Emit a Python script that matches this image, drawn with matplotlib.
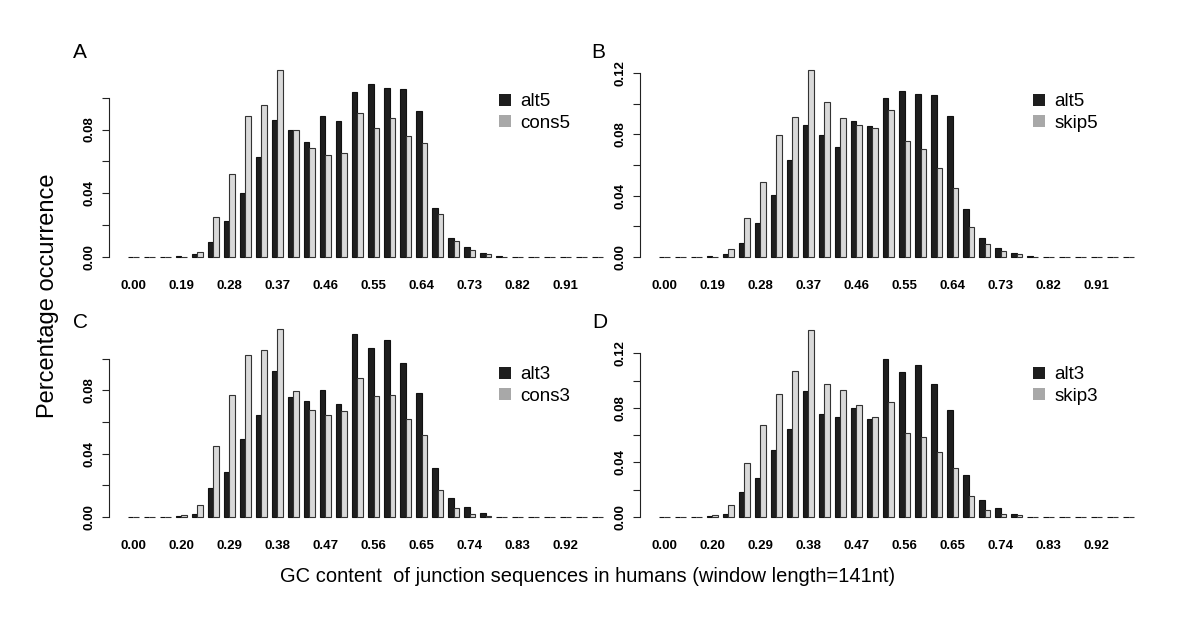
import numpy as np
import matplotlib.pyplot as plt
from matplotlib.patches import Patch

plt.rcParams['font.family'] = ['Liberation Sans', 'DejaVu Sans']

# GC content bins: 30 groups, only every third name is printed
labels_5 = ["0.00", "0.19", "0.28", "0.37", "0.46", "0.55", "0.64", "0.73", "0.82", "0.91"]
labels_3 = ["0.00", "0.20", "0.29", "0.38", "0.47", "0.56", "0.65", "0.74", "0.83", "0.92"]

alt5 = [0, 0, 0, 0.0006, 0.0021, 0.0094, 0.0224, 0.0402, 0.0630, 0.0861,
        0.0796, 0.0720, 0.0888, 0.0854, 0.1035, 0.1083, 0.1060, 0.1053, 0.0919, 0.0310,
        0.0121, 0.0061, 0.0023, 0.0005, 0, 0, 0, 0, 0, 0]
cons5 = [0, 0, 0, 0.0002, 0.0031, 0.0251, 0.0519, 0.0882, 0.0957, 0.1177,
         0.0798, 0.0683, 0.0643, 0.0655, 0.0905, 0.0810, 0.0875, 0.0762, 0.0714, 0.0272,
         0.0098, 0.0046, 0.0021, 0, 0, 0, 0, 0, 0, 0]
skip5 = [0, 0, 0, 0.0003, 0.0054, 0.0257, 0.0489, 0.0796, 0.0915, 0.1222,
         0.1007, 0.0909, 0.0859, 0.0843, 0.0961, 0.0759, 0.0702, 0.0580, 0.0452, 0.0198,
         0.0083, 0.0037, 0.0017, 0.0003, 0, 0, 0, 0, 0, 0]
alt3 = [0, 0, 0, 0.0008, 0.0019, 0.0185, 0.0284, 0.0491, 0.0646, 0.0924,
        0.0756, 0.0731, 0.0800, 0.0716, 0.1156, 0.1065, 0.1114, 0.0973, 0.0785, 0.0307,
        0.0122, 0.0063, 0.0025, 0, 0, 0, 0, 0, 0, 0]
cons3 = [0, 0, 0, 0.0010, 0.0076, 0.0446, 0.0771, 0.1021, 0.1055, 0.1183,
         0.0796, 0.0678, 0.0646, 0.0669, 0.0876, 0.0762, 0.0771, 0.0617, 0.0516, 0.0171,
         0.0057, 0.0019, 0.0008, 0, 0, 0, 0, 0, 0, 0]
skip3 = [0, 0, 0, 0.0012, 0.0088, 0.0394, 0.0678, 0.0899, 0.1075, 0.1376,
         0.0977, 0.0931, 0.0820, 0.0735, 0.0847, 0.0617, 0.0590, 0.0475, 0.0360, 0.0152,
         0.0051, 0.0020, 0.0015, 0, 0, 0, 0, 0, 0, 0]

W, H = 1200, 638
BLACK = '#1e1e1e'
LIGHT = '#d9d9d9'
LEG_GREY = '#a8a8a8'


def px_box(left, top, width, height):
    return [left / W, 1 - (top + height) / H, width / W, height / H]


def draw_panel(ax, black, grey, names, ytop, ylabels, leg_names, leg_xy):
    n = len(black)
    k = np.arange(n)
    # R barplot(beside=TRUE): bar width 1, one unit gap between groups
    ax.bar(1 + 3 * k, black, width=1, align='edge', color=BLACK,
           edgecolor='#111111', linewidth=0.8)
    ax.bar(2 + 3 * k, grey, width=1, align='edge', color=LIGHT,
           edgecolor='#333333', linewidth=0.8)
    span = 3 * n - 1
    ax.set_xlim(1 - 0.04 * span, 3 * n + 0.04 * span)
    m = max(max(black), max(grey))
    ax.set_ylim(-0.04 * m, 1.04 * m)

    for s in ['top', 'right', 'bottom']:
        ax.spines[s].set_visible(False)
    ax.spines['left'].set_bounds(0, ytop)
    ax.spines['left'].set_color('#222222')
    ax.spines['left'].set_linewidth(0.8)

    yt = np.arange(0, ytop + 1e-9, 0.02)
    ax.set_yticks(yt)
    ax.set_yticklabels(['%.2f' % v if ('%.2f' % v) in ylabels else '' for v in yt],
                       rotation=90, va='center', fontsize=9.5, fontweight='bold')
    ax.tick_params(axis='y', length=5, width=0.8, color='#222222', pad=5)

    ax.set_xticks(2 + 3 * k[::3])
    ax.set_xticklabels(names, fontsize=9.5, fontweight='bold')
    ax.tick_params(axis='x', length=0, pad=11)

    handles = [Patch(facecolor=BLACK, edgecolor='none', label=leg_names[0]),
               Patch(facecolor=LEG_GREY, edgecolor='none', label=leg_names[1])]
    fig = ax.figure
    fig.legend(handles=handles, loc='center left',
               bbox_to_anchor=(leg_xy[0] / W, 1 - leg_xy[1] / H),
               frameon=False, fontsize=13.5, handlelength=0.65, handleheight=0.65,
               handletextpad=0.5, labelspacing=0.22, borderpad=0, borderaxespad=0)


fig = plt.figure(figsize=(12, 6.38), dpi=100)

pw, ph = 513, 202.5
axA = fig.add_axes(px_box(109, 62, pw, ph))
axB = fig.add_axes(px_box(640, 62, pw, ph))
axC = fig.add_axes(px_box(109, 322, pw, ph))
axD = fig.add_axes(px_box(640, 322, pw, ph))

draw_panel(axA, alt5, cons5, labels_5, 0.10, ['0.00', '0.04', '0.08'],
           ['alt5', 'cons5'], (499, 112.5))
draw_panel(axB, alt5, skip5, labels_5, 0.12, ['0.00', '0.04', '0.08', '0.12'],
           ['alt5', 'skip5'], (1033, 112.5))
draw_panel(axC, alt3, cons3, labels_3, 0.10, ['0.00', '0.04', '0.08'],
           ['alt3', 'cons3'], (499, 385.5))
draw_panel(axD, alt3, skip3, labels_3, 0.12, ['0.00', '0.04', '0.08', '0.12'],
           ['alt3', 'skip3'], (1033, 385.5))

for letter, x, y in [('A', 80, 53), ('B', 598, 53), ('C', 80, 323), ('D', 600, 323)]:
    fig.text(x / W, 1 - y / H, letter, fontsize=15, ha='center', va='center')

fig.text(48 / W, 1 - 296 / H, 'Percentage occurrence', rotation=90,
         fontsize=17, ha='center', va='center')
fig.text(588 / W, 1 - 577 / H,
         'GC content  of junction sequences in humans (window length=141nt)',
         fontsize=14.5, ha='center', va='center')

fig.savefig('out.png', dpi=100)
